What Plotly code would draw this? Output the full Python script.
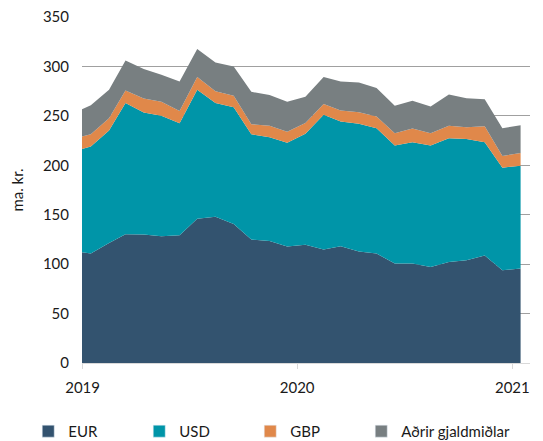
import plotly.graph_objects as go

dates = ['2018-12-31'] + [f'{y}-{m:02d}-15' for y in (2019, 2020) for m in range(1, 13)] + ['2021-01-15']

eur = [112.1, 110.7, 121.5, 130.3, 130.0, 128.3, 129.3, 145.8, 147.9, 140.5, 124.9, 123.5, 117.8,
       119.5, 114.8, 118.2, 112.8, 110.7, 100.6, 100.6, 97.2, 102.2, 104.0, 108.7, 93.8, 95.5]
usd = [104.4, 108.2, 113.6, 132.6, 123.3, 121.7, 113.3, 130.6, 115.0, 118.3, 106.5, 104.9, 105.1,
       112.4, 136.2, 126.0, 129.1, 126.8, 119.3, 122.7, 122.7, 125.2, 122.7, 114.6, 103.8, 104.1]
gbp = [12.5, 12.5, 12.6, 12.8, 14.3, 14.2, 12.2, 12.9, 12.1, 11.5, 10.2, 11.5, 10.9,
       11.0, 10.9, 11.2, 11.8, 11.8, 12.6, 13.8, 12.6, 12.5, 11.8, 16.3, 11.8, 12.9]
other = [27.8, 29.4, 28.7, 30.4, 29.7, 27.4, 30.0, 28.3, 29.1, 29.7, 32.7, 31.1, 30.4,
         26.4, 27.4, 29.4, 30.1, 28.8, 27.6, 28.1, 26.9, 31.7, 29.4, 27.3, 28.1, 28.1]

names = ['EUR', 'USD', 'GBP', 'Aðrir gjaldmiðlar']
colors = ['#33536f', '#0095a8', '#e0884a', '#787f81']
legend_widths = [66, 66, 66, 130]

fig = go.Figure()
for name, vals, col in zip(names, [eur, usd, gbp, other], colors):
    # stacked areas, legend handled by dummy bars below (square swatches)
    fig.add_trace(go.Scatter(x=dates, y=vals, name=name, stackgroup='one', mode='lines',
                             line=dict(width=0, color=col), fillcolor=col, showlegend=False))
for name, col, lw in zip(names, colors, legend_widths):
    fig.add_trace(go.Bar(x=[None], y=[None], name=name, marker_color=col, showlegend=True,
                         legendwidth=lw))

font = dict(family='Lato, Open Sans, sans-serif', size=15, color='#1a1a1a')

fig.update_xaxes(type='date', range=['2018-12-31', '2021-01-31'], tick0='2019-01-01', dtick='M12',
                 tickformat='%Y', showgrid=False, showline=True, linecolor='#d9d9d9', linewidth=1,
                 ticks='outside', ticklen=5, tickcolor='#d9d9d9', ticklabelstandoff=6, tickfont=font)
fig.update_yaxes(range=[0, 350], dtick=50, showgrid=True, gridcolor='#a0a0a0', gridwidth=1,
                 zeroline=False, showline=False, ticklabelstandoff=12, tickfont=font,
                 ticklabeloverflow='allow', title=dict(text='ma. kr.', font=font, standoff=26))

# page body adds an 8px offset, so the figure is 8px smaller than the window
fig.update_layout(width=535, height=433, margin=dict(l=74, r=13, t=9, b=78, autoexpand=False),
                  plot_bgcolor='white', paper_bgcolor='white', font=font,
                  legend=dict(orientation='h', x=-0.12, xanchor='left', y=-0.15, yanchor='top',
                              traceorder='normal', entrywidthmode='pixels', font=font),
                  showlegend=True)

fig.write_html('out.html')
